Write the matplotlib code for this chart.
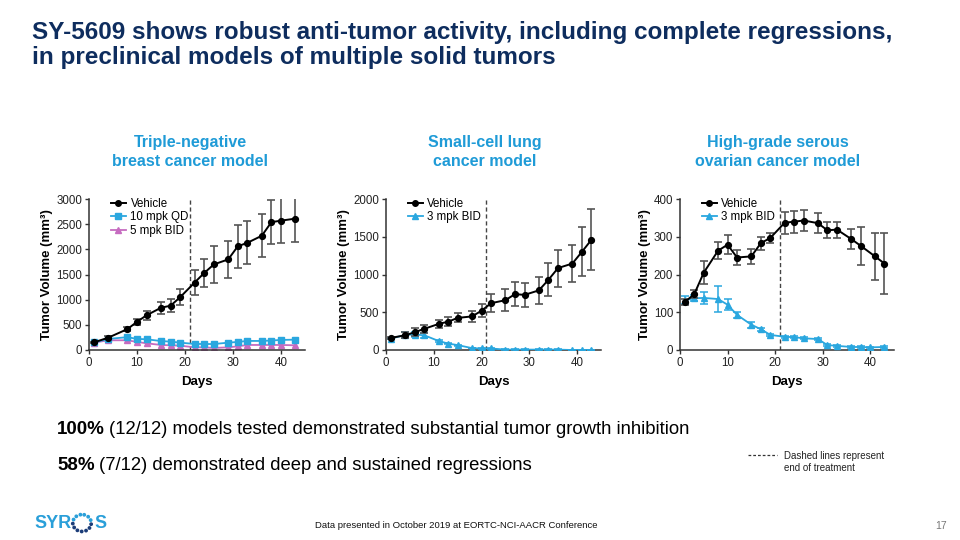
import matplotlib
matplotlib.use("Agg")
import matplotlib.pyplot as plt
from matplotlib.lines import Line2D
import numpy as np

plt.rcParams['font.family'] = ['Liberation Sans', 'DejaVu Sans']

# ---------------- data ----------------
# Panel 1: Triple-negative breast cancer
tn_days = [1, 4, 8, 10, 12, 15, 17, 19, 22, 24, 26, 29, 31, 33, 36, 38, 40, 43]
tn_vehicle = [150, 245, 415, 560, 690, 840, 880, 1050, 1340, 1530, 1700, 1800, 2060, 2130, 2270, 2540, 2570, 2610]
tn_vehicle_err = [15, 25, 35, 63, 90, 115, 133, 153, 240, 280, 365, 365, 425, 425, 425, 440, 450, 460]
tn_qd = [150, 220, 255, 220, 213, 178, 166, 146, 120, 120, 118, 146, 160, 180, 180, 188, 200, 206]
tn_bid = [146, 193, 193, 160, 133, 100, 93, 86, 53, 53, 40, 53, 73, 100, 100, 100, 100, 93]

# Panel 2: Small-cell lung cancer
sc_days = [1, 4, 6, 8, 11, 13, 15, 18, 20, 22, 25, 27, 29, 32, 34, 36, 39, 41, 43]
sc_vehicle = [160, 195, 235, 280, 345, 375, 425, 445, 520, 620, 660, 740, 730, 790, 930, 1085, 1145, 1300, 1460]
sc_vehicle_err = [10, 38, 50, 55, 58, 62, 60, 69, 86, 120, 146, 157, 164, 177, 220, 245, 245, 323, 407]
sc_bid = [150, 200, 205, 195, 120, 85, 65, 25, 20, 20, 5, 5, 5, 5, 5, 5, 0, 0, 0]
sc_bid_err = [10, 40, 35, 30, 10, 8, 6, 4, 3, 3, 2, 2, 2, 2, 2, 2, 1, 1, 1]

# Panel 3: High-grade serous ovarian cancer
ov_days = [1, 3, 5, 8, 10, 12, 15, 17, 19, 22, 24, 26, 29, 31, 33, 36, 38, 41, 43]
ov_vehicle = [127, 148, 205, 263, 279, 245, 248, 283, 297, 337, 340, 343, 336, 317, 319, 294, 276, 248, 229]
ov_vehicle_err = [9, 11, 30, 23, 25, 19, 20, 17, 13, 29, 29, 29, 27, 21, 21, 26, 50, 62, 80]
ov_bid_days = [1, 3, 5, 8, 10, 12, 15, 17, 19, 22, 24, 26, 29, 31, 33, 36, 38, 40, 43]
ov_bid = [132, 137, 138, 135, 120, 93, 67, 55, 40, 35, 34, 31, 29, 13, 11, 8, 8, 7, 8]
ov_bid_err = [10, 8, 15, 35, 15, 8, 8, 4, 3, 3, 3, 3, 3, 3, 3, 2, 2, 2, 2]

end_of_treatment = 21

panel_titles = ["Triple-negative\nbreast cancer model",
                "Small-cell lung\ncancer model",
                "High-grade serous\novarian cancer model"]

# ---------------- style ----------------
NAVY = "#0E2D5E"
BLUE = "#1F9BD7"
CYAN = "#2AA7DF"
PINK = "#C66CC0"
AXC = "#333333"

W, H = 960, 540
fig = plt.figure(figsize=(9.6, 5.4), dpi=100)


def px_axes(x0, x1, ytop, ybot):
    return fig.add_axes([x0 / W, 1 - ybot / H, (x1 - x0) / W, (ybot - ytop) / H])


def style_ax(ax, ymax, ystep):
    ax.set_xlim(0, 45)
    ax.set_ylim(0, ymax)
    ax.set_xticks([0, 10, 20, 30, 40])
    ax.set_yticks(np.arange(0, ymax + 1, ystep))
    for s in ["top", "right"]:
        ax.spines[s].set_visible(False)
    for s in ["left", "bottom"]:
        ax.spines[s].set_color(AXC)
        ax.spines[s].set_linewidth(1.1)
    ax.tick_params(colors=AXC, labelcolor="#222222", labelsize=8.3, length=3, width=1, pad=2)
    ax.set_xlabel("Days", fontsize=9.5, fontweight="bold", labelpad=5)
    ax.set_ylabel("Tumor Volume (mm³)", fontsize=9.5, fontweight="bold", labelpad=2)
    ax.axvline(end_of_treatment, color="#444444", lw=1, ls=(0, (3, 2)), zorder=1)
    ax.patch.set_alpha(0)


def vehicle(ax, d, v, e):
    ax.errorbar(d, v, yerr=e, color="black", ecolor="#555555", elinewidth=1.2, capsize=3,
                capthick=1.2, marker="o", ms=4.2, lw=1.4, zorder=4)


veh_h = Line2D([], [], color="black", marker="o", ms=4, lw=1.4)

# Panel 1
ax1 = px_axes(89, 305, 199, 350)
style_ax(ax1, 3000, 500)
vehicle(ax1, tn_days, tn_vehicle, tn_vehicle_err)
ax1.plot(tn_days, tn_qd, color=CYAN, marker="s", ms=3.8, lw=1.3, zorder=3)
ax1.plot(tn_days, tn_bid, color=PINK, marker="^", ms=4.5, lw=1.3, zorder=2)
h1 = [veh_h,
      Line2D([], [], color=CYAN, marker="s", ms=3.8, lw=1.3),
      Line2D([], [], color=PINK, marker="^", ms=4.5, lw=1.3)]
l1 = ["Vehicle", "10 mpk QD", "5 mpk BID"]

# Panel 2
ax2 = px_axes(386, 601, 199, 350)
style_ax(ax2, 2000, 500)
vehicle(ax2, sc_days, sc_vehicle, sc_vehicle_err)
ax2.errorbar(sc_days, sc_bid, yerr=sc_bid_err, color=CYAN, ecolor=CYAN, elinewidth=1.1, capsize=3,
             capthick=1.1, marker="^", ms=5, lw=1.3, zorder=3)
h2 = [veh_h, Line2D([], [], color=CYAN, marker="^", ms=5, lw=1.3)]
l2 = ["Vehicle", "3 mpk BID"]

# Panel 3
ax3 = px_axes(680, 894, 199, 350)
style_ax(ax3, 400, 100)
vehicle(ax3, ov_days, ov_vehicle, ov_vehicle_err)
ax3.errorbar(ov_bid_days, ov_bid, yerr=ov_bid_err, color=CYAN, ecolor=CYAN, elinewidth=1.1, capsize=3,
             capthick=1.1, marker="^", ms=5, lw=1.3, zorder=3)

for ax, hs, ls in ((ax1, h1, l1), (ax2, h2, l2), (ax3, h2, l2)):
    ax.legend(hs, ls, loc="upper left", bbox_to_anchor=(0.08, 1.04), frameon=False,
              fontsize=8.3, handlelength=1.3, handletextpad=0.4, borderaxespad=0,
              labelspacing=0.15)

# Panel titles
for xc, t in zip([190, 485, 778], panel_titles):
    fig.text(xc / W, 1 - 152 / H, t, ha="center", va="center", color=BLUE,
             fontsize=11.5, fontweight="bold", linespacing=1.3)

# Main title
fig.text(32 / W, 1 - 45 / H,
         "SY-5609 shows robust anti-tumor activity, including complete regressions,\n"
         "in preclinical models of multiple solid tumors",
         ha="left", va="center", color=NAVY, fontsize=17.5, fontweight="bold", linespacing=1.08)

# Summary statements
t1 = fig.text(57 / W, 1 - 430 / H, "100%", ha="left", va="center", fontsize=13.5,
              fontweight="bold", color="black")
fig.canvas.draw()
r = fig.canvas.get_renderer()
bb = t1.get_window_extent(r)
fig.text((bb.x1 + 4) / W, 1 - 430 / H,
         "(12/12) models tested demonstrated substantial tumor growth inhibition",
         ha="left", va="center", fontsize=13.3, color="black")
t2 = fig.text(57 / W, 1 - 465 / H, "58%", ha="left", va="center", fontsize=13.5,
              fontweight="bold", color="black")
bb2 = t2.get_window_extent(r)
fig.text((bb2.x1 + 4) / W, 1 - 465 / H, "(7/12) demonstrated deep and sustained regressions",
         ha="left", va="center", fontsize=13.3, color="black")

# Dashed-line note
fig.add_artist(plt.Line2D([748 / W, 777 / W], [1 - 455 / H, 1 - 455 / H], color="#333333",
                          lw=0.9, ls=(0, (2.2, 1.6))))
fig.text(784 / W, 1 - 462 / H, "Dashed lines represent\nend of treatment", ha="left",
         va="center", fontsize=7, color="#222222", linespacing=1.2)

# Footer
fig.text(456 / W, 1 - 525 / H, "Data presented in October 2019 at EORTC-NCI-AACR Conference",
         ha="center", va="center", fontsize=6.8, color="#111111")
fig.text(947 / W, 1 - 526 / H, "17", ha="right", va="center", fontsize=7.5, color="#777777")

# Logo
fig.text(34 / W, 1 - 523 / H, "SYR", ha="left", va="center", fontsize=13, fontweight="bold",
         color="#2A9FD9")
fig.text(94 / W, 1 - 523 / H, "S", ha="left", va="center", fontsize=13, fontweight="bold",
         color="#2A9FD9")
lax = fig.add_axes([70 / W, 1 - 534 / H, 24 / W, 22 / H])
lax.set_xlim(-1.3, 1.3)
lax.set_ylim(-1.3, 1.3)
lax.axis("off")
ang = np.deg2rad(np.arange(100, 460, 28))
cols = ["#1B3C78" if (a % (2 * np.pi)) > np.pi else "#2A9FD9" for a in ang]
lax.scatter(np.cos(ang), np.sin(ang), s=3, c=cols)

fig.savefig("out.png", dpi=100)
